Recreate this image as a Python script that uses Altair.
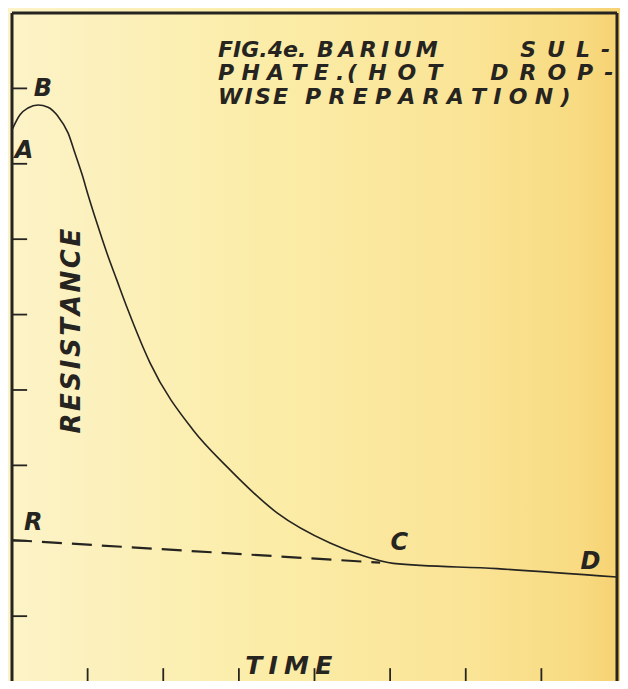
import altair as alt
import pandas as pd

# ---- data (in grid units: x 0..8, y 0..9) ----
curve_x = [0.0, 0.106, 0.212, 0.344, 0.476, 0.608, 0.741, 0.833, 0.926, 1.005, 1.124, 1.257,
           1.389, 1.534, 1.825, 2.394, 2.844, 3.505, 4.206, 4.643, 5.04, 6.415, 8.0]
curve_y = [7.45, 7.65, 7.74, 7.78, 7.75, 7.63, 7.41, 7.14, 6.86, 6.59, 6.21, 5.81,
           5.45, 5.06, 4.36, 3.47, 2.98, 2.37, 1.97, 1.80, 1.70, 1.63, 1.52]

dash_x = [0.0, 4.868]
dash_y = [2.01, 1.71]

ytick_vals = [1, 2, 3, 4, 5, 6, 7, 8]
xtick_vals = [1, 2, 3, 4, 5, 6, 7]

point_labels = ["B", "A", "R", "C", "D"]
point_lx = [0.41, 0.16, 0.28, 5.12, 7.65]
point_ly = [7.99, 7.17, 2.24, 1.97, 1.72]

# title words (figure caption), with their line and starting position
title_words = ["FIG.4e.", "BARIUM", "SUL-", "PHATE.", "(HOT", "DROP-", "WISE", "PREPARATION)"]
title_wx = [2.725, 4.034, 6.720, 2.725, 4.431, 6.323, 2.725, 3.876]
title_wy = [8.51, 8.51, 8.51, 8.21, 8.21, 8.21, 7.89, 7.89]

axis_titles = ["RESISTANCE", "TIME"]
axis_tx = [0.79, 3.66]
axis_ty = [4.78, 0.34]

W, H = 605, 668
Y_LO = 0.14
INK = "#262420"
FONT = "DejaVu Sans"

# letter spacing per word (styling only)
SP = {"FIG.4e.": "", "BARIUM": "\u2009", "SUL-": "\u2002", "PHATE.": "\u2004",
      "(HOT": "\u2002", "DROP-": "\u2002", "WISE": "\u200a", "PREPARATION)": "\u2004",
      "RESISTANCE": "\u200a", "TIME": "\u2005"}
spaced = lambda w: SP.get(w, "").join(list(w))

xs = alt.Scale(domain=[0, 8], nice=False, zero=False)
ys = alt.Scale(domain=[Y_LO, 9], nice=False, zero=False)
X = lambda f: alt.X(f, scale=xs, axis=None)
Y = lambda f: alt.Y(f, scale=ys, axis=None)

grad = alt.LinearGradient(
    gradient="linear", x1=0, x2=1, y1=0, y2=0,
    stops=[alt.GradientStop(offset=0, color="#fcf3c8"),
           alt.GradientStop(offset=0.4, color="#fbeda9"),
           alt.GradientStop(offset=0.75, color="#fae496"),
           alt.GradientStop(offset=0.93, color="#f8db82"),
           alt.GradientStop(offset=1.0, color="#f6d171")])
bg_df = pd.DataFrame({"x0": [-0.06], "x1": [8.05], "y0": [0.0], "y1": [9.1]})
bg = alt.Chart(bg_df).mark_rect(color=grad).encode(
    x=X("x0:Q"), x2="x1:Q", y=Y("y0:Q"), y2="y1:Q")

curve_df = pd.DataFrame({"x": curve_x, "y": curve_y})
curve = alt.Chart(curve_df).mark_line(color=INK, strokeWidth=1.6, interpolate="monotone").encode(
    x=X("x:Q"), y=Y("y:Q"))

dash_df = pd.DataFrame({"x": dash_x, "y": dash_y})
dash = alt.Chart(dash_df).mark_line(color=INK, strokeWidth=2.2, strokeDash=[20, 10]).encode(
    x=X("x:Q"), y=Y("y:Q"))

yt_df = pd.DataFrame({"y": ytick_vals, "x0": [0.0] * len(ytick_vals), "x1": [0.2] * len(ytick_vals)})
yticks = alt.Chart(yt_df).mark_rule(color=INK, strokeWidth=1.8).encode(
    x=X("x0:Q"), x2="x1:Q", y=Y("y:Q"))

xt_df = pd.DataFrame({"x": xtick_vals, "y0": [Y_LO] * len(xtick_vals), "y1": [0.31] * len(xtick_vals)})
xticks = alt.Chart(xt_df).mark_rule(color=INK, strokeWidth=1.8).encode(
    x=X("x:Q"), y=Y("y0:Q"), y2="y1:Q")

frame_df = pd.DataFrame({"xa": [0.0, 8.0, 0.0], "xb": [0.0, 8.0, 8.0],
                         "ya": [Y_LO, Y_LO, 9.0], "yb": [9.0, 9.0, 9.0]})
frame = alt.Chart(frame_df).mark_rule(color=INK, strokeWidth=3).encode(
    x=X("xa:Q"), x2="xb:Q", y=Y("ya:Q"), y2="yb:Q")

lab_df = pd.DataFrame({"t": point_labels, "x": point_lx, "y": point_ly})
labels = alt.Chart(lab_df).mark_text(font=FONT, fontSize=24, fontWeight="bold", fontStyle="italic",
                                     color=INK, align="center", baseline="middle").encode(
    x=X("x:Q"), y=Y("y:Q"), text="t:N")

tt_df = pd.DataFrame({"t": [spaced(w) for w in title_words], "x": title_wx, "y": title_wy})
title = alt.Chart(tt_df).mark_text(font=FONT, fontSize=22, fontStyle="italic", fontWeight="bold",
                                   color=INK, align="left", baseline="middle").encode(
    x=X("x:Q"), y=Y("y:Q"), text="t:N")

res_df = pd.DataFrame({"t": [spaced(axis_titles[0])], "x": [axis_tx[0]], "y": [axis_ty[0]]})
res = alt.Chart(res_df).mark_text(font=FONT, fontSize=26, fontStyle="italic", fontWeight="bold",
                                  color=INK, align="center", baseline="middle", angle=270).encode(
    x=X("x:Q"), y=Y("y:Q"), text="t:N")
tim_df = pd.DataFrame({"t": [spaced(axis_titles[1])], "x": [axis_tx[1]], "y": [axis_ty[1]]})
tim = alt.Chart(tim_df).mark_text(font=FONT, fontSize=25, fontStyle="italic", fontWeight="bold",
                                  color=INK, align="center", baseline="middle").encode(
    x=X("x:Q"), y=Y("y:Q"), text="t:N")

chart = alt.layer(bg, dash, curve, yticks, xticks, frame, labels, title, res, tim).properties(
    width=W, height=H, padding={"left": 4, "top": 5, "right": 3, "bottom": 0},
    autosize=alt.AutoSizeParams(type="none"),
    background="#fbeba9"
).configure_view(strokeWidth=0, fill="#fbeba9")

chart.save("out.html", embed_options={"renderer": "svg", "actions": False})
